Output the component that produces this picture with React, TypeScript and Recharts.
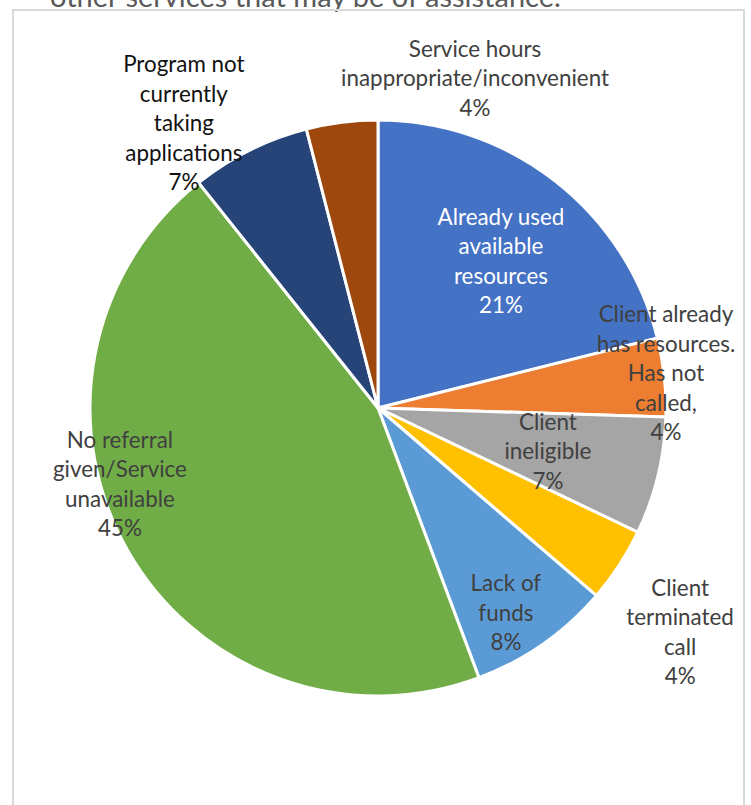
import React from "react";
import { PieChart, Pie, Cell } from "recharts";

// Reasons a referral was not made (share of calls)
const categories = [
  "Already used available resources",
  "Client already has resources. Has not called,",
  "Client ineligible",
  "Client terminated call",
  "Lack of funds",
  "No referral given/Service unavailable",
  "Program not currently taking applications",
  "Service hours inappropriate/inconvenient",
];
const values = [21.1, 4.4, 6.6, 4.2, 8.0, 45.0, 6.7, 4.0];

// label text broken the way the original wraps it
const labelLines = [
  ["Already used", "available", "resources"],
  ["Client already", "has resources.", "Has not", "called,"],
  ["Client", "ineligible"],
  ["Client", "terminated", "call"],
  ["Lack of", "funds"],
  ["No referral", "given/Service", "unavailable"],
  ["Program not", "currently", "taking", "applications"],
  ["Service hours", "inappropriate/inconvenient"],
];

const COLORS = ["#4472C4", "#ED7D31", "#A5A5A5", "#FFC000", "#5B9BD5", "#70AD47", "#264478", "#9E480E"];

// label block centres, as a fraction of the radius from the pie centre
const LABEL_OFFSETS: Array<[number, number]> = [
  [0.427, -0.514],
  [1.0, -0.125],
  [0.59, 0.146],
  [1.049, 0.774],
  [0.444, 0.708],
  [-0.896, 0.26],
  [-0.674, -0.993],
  [0.337, -1.148],
];
const LABEL_COLORS = ["#ffffff", "#404040", "#404040", "#404040", "#404040", "#404040", "#111111", "#404040"];

const FONT = "Lato, 'Open Sans', sans-serif";
const LINE_H = 29.5;

const total = values.reduce((a, b) => a + b, 0);
const data = categories.map((name, i) => ({ name, value: values[i] }));

function renderLabel(props: any) {
  const { cx, cy, outerRadius, index } = props;
  const [fx, fy] = LABEL_OFFSETS[index];
  const x = cx + fx * outerRadius;
  const y = cy + fy * outerRadius;
  const pct = `${Math.round((values[index] / total) * 100)}%`;
  const lines = [...labelLines[index], pct];
  const top = y - ((lines.length - 1) * LINE_H) / 2;
  return (
    <text
      key={`lbl-${index}`}
      x={x}
      y={top}
      textAnchor="middle"
      dominantBaseline="central"
      fill={LABEL_COLORS[index]}
      style={{ fontFamily: FONT, fontSize: 22.4 }}
    >
      {lines.map((l, i) => (
        <tspan key={i} x={x} y={top + i * LINE_H}>
          {l}
        </tspan>
      ))}
    </text>
  );
}

export default function App() {
  return (
    <div style={{ position: "absolute", left: 0, top: 0, width: 751, height: 805, overflow: "hidden", background: "#fff" }}>
      {/* title of the section above, cut off by the screenshot */}
      <div
        style={{
          position: "absolute",
          left: 50,
          top: -22,
          fontFamily: FONT,
          fontSize: 29,
          color: "#595959",
          whiteSpace: "nowrap",
        }}
      >
        other services that may be of assistance.
      </div>
      <div
        style={{
          position: "absolute",
          left: 12,
          top: 9,
          width: 733,
          height: 820,
          border: "2px solid #d9d9d9",
          boxSizing: "border-box",
        }}
      />
      <div style={{ position: "absolute", left: 0, top: 0 }}>
        <PieChart width={751} height={805} margin={{ top: 0, right: 0, bottom: 0, left: 0 }}>
          <Pie
            data={data}
            dataKey="value"
            nameKey="name"
            cx={378}
            cy={408}
            outerRadius={288}
            startAngle={90}
            endAngle={-270}
            stroke="#ffffff"
            strokeWidth={3}
            label={renderLabel}
            labelLine={false}
            isAnimationActive={false}
          >
            {data.map((d, i) => (
              <Cell key={d.name} fill={COLORS[i]} />
            ))}
          </Pie>
        </PieChart>
      </div>
    </div>
  );
}
